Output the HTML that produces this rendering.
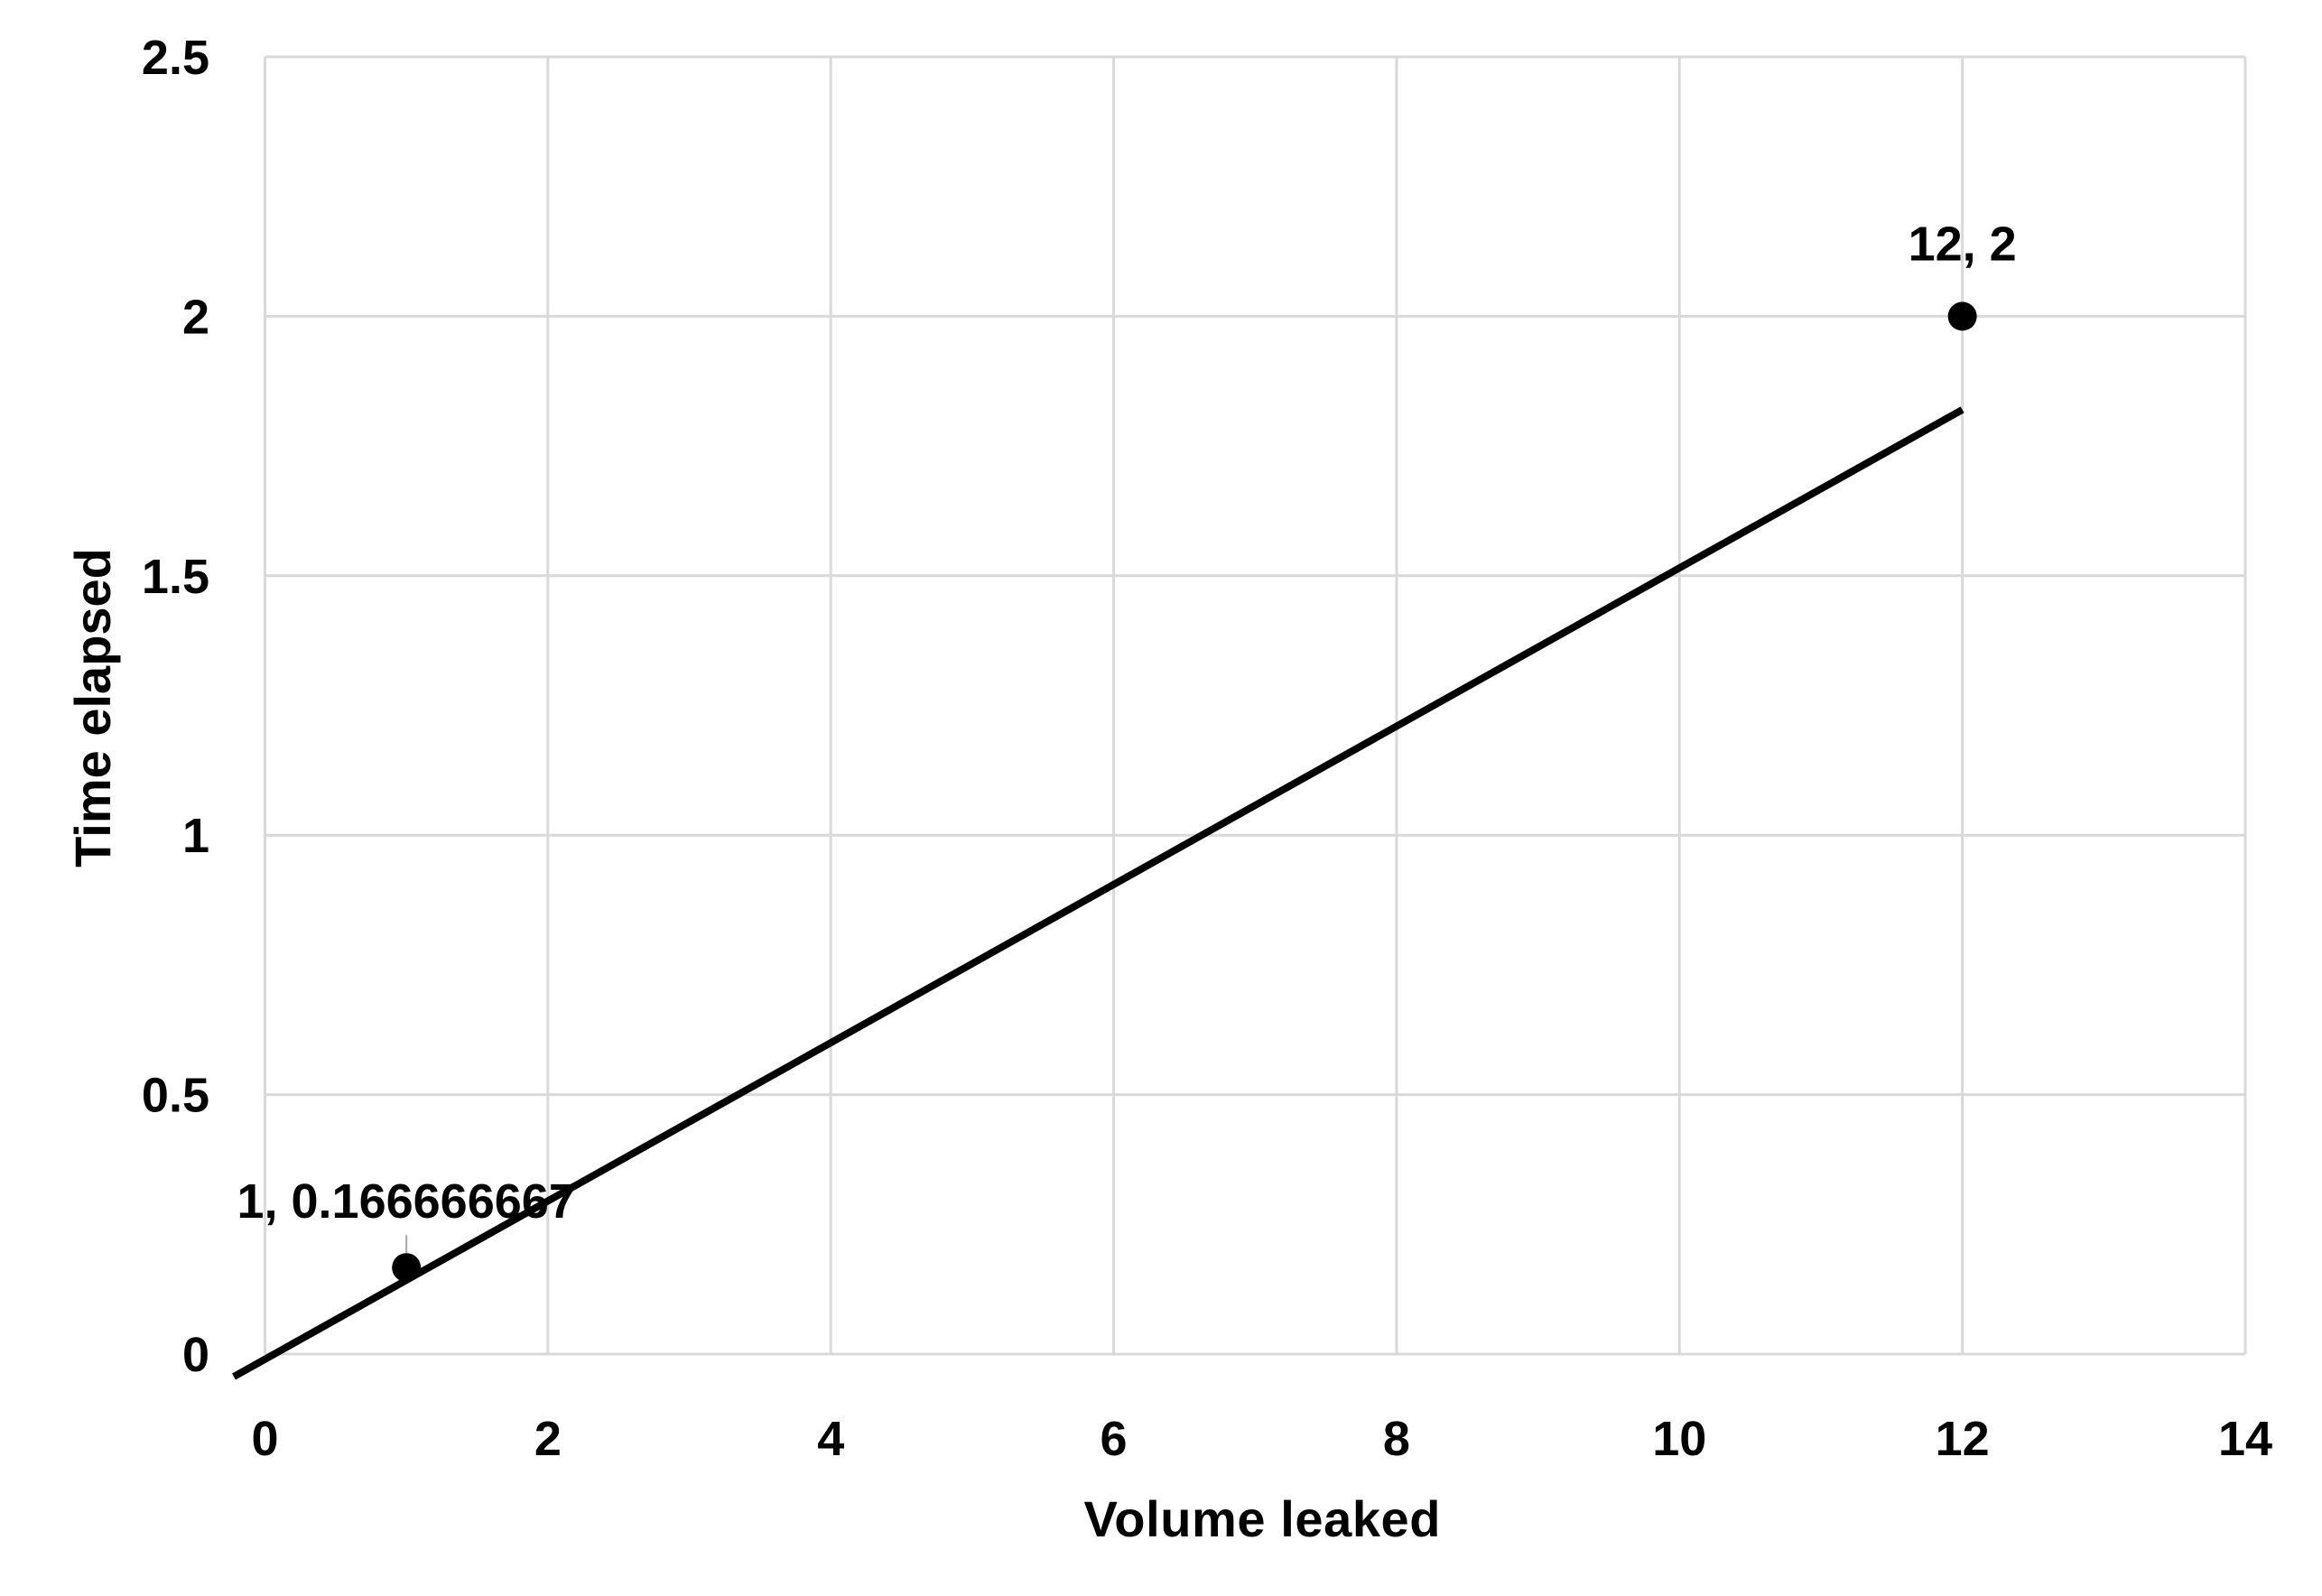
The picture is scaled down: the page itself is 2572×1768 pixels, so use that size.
<!DOCTYPE html>
<html><head><meta charset="utf-8"><style>
html,body{margin:0;padding:0;background:#fff;}
svg{display:block;font-family:"Liberation Sans",sans-serif;font-weight:bold;}
</style></head><body>
<svg id="chart" width="2572" height="1768" viewBox="0 0 2572 1768">
<g id="grid"></g>
<g id="ticks"></g>
<g id="marks"></g>
<text x="1398" y="1702" font-size="56" text-anchor="middle" textLength="395">Volume leaked</text>
<text x="0" y="0" font-size="56" text-anchor="middle" transform="translate(122,784) rotate(-90)">Time elapsed</text>
</svg>
<script>
const xTicks = [0, 2, 4, 6, 8, 10, 12, 14];
const yTicks = [0, 0.5, 1, 1.5, 2, 2.5];
const yTickLabels = ["0", "0.5", "1", "1.5", "2", "2.5"];
const pointsX = [1, 12];
const pointsY = [0.166666667, 2];
const pointLabels = ["1, 0.166666667", "12, 2"];
const trendSlope = [0.1525];
const trendIntercept = [-0.01];
const trendRange = [-0.22, 12];

const X0 = 293.5, X1 = 2487, Y0 = 1500, Y1 = 63;
const xMin = 0, xMax = 14, yMin = 0, yMax = 2.5;
const sx = v => X0 + (v - xMin) / (xMax - xMin) * (X1 - X0);
const sy = v => Y0 - (v - yMin) / (yMax - yMin) * (Y0 - Y1);
const NS = "http://www.w3.org/2000/svg";
function mk(tag, parent, attrs){const e=document.createElementNS(NS,tag);for(const k in attrs)e.setAttribute(k,attrs[k]);parent.appendChild(e);return e;}
const grid = document.getElementById('grid'), ticks = document.getElementById('ticks'), marks = document.getElementById('marks');

xTicks.forEach(t => {
  const l = mk('line', grid, {x1:sx(t), x2:sx(t), y1:Y1, y2:Y0, stroke:'#d9d9d9', 'stroke-width':3});
  
  
  const tx = mk('text', ticks, {x:sx(t), y:1612, 'font-size':54, 'text-anchor':'middle'});
  tx.textContent = String(t);
  
  
});
yTicks.forEach((t, i) => {
  const l = mk('line', grid, {x1:X0, x2:X1, y1:sy(t), y2:sy(t), stroke:'#d9d9d9', 'stroke-width':3});
  
  
  const tx = mk('text', ticks, {x:232, y:sy(t)+19, 'font-size':54, 'text-anchor':'end'});
  tx.textContent = yTickLabels[i];
  
  
});

const ld = mk('line', marks, {x1:sx(pointsX[0]), x2:sx(pointsX[0]), y1:sy(pointsY[0])-36, y2:sy(pointsY[0]), stroke:'#a6a6a6', 'stroke-width':2});



pointsX.forEach((x, i) => {
  const c = mk('circle', marks, {cx:sx(x), cy:sy(pointsY[i]), r:16, fill:'#000'});
  
  
});

const tl = mk('line', marks, {
  x1:sx(trendRange[0]), y1:sy(trendSlope[0]*trendRange[0]+trendIntercept[0]),
  x2:sx(trendRange[1]), y2:sy(trendSlope[0]*trendRange[1]+trendIntercept[0]),
  stroke:'#000', 'stroke-width':8});



pointsX.forEach((x, i) => {
  const tx = mk('text', marks, {x:sx(x), y:sy(pointsY[i]) - (i===0?55:62), 'font-size':54, 'text-anchor':'middle'});
  tx.textContent = pointLabels[i];
  
  
});
</script>
</body></html>
